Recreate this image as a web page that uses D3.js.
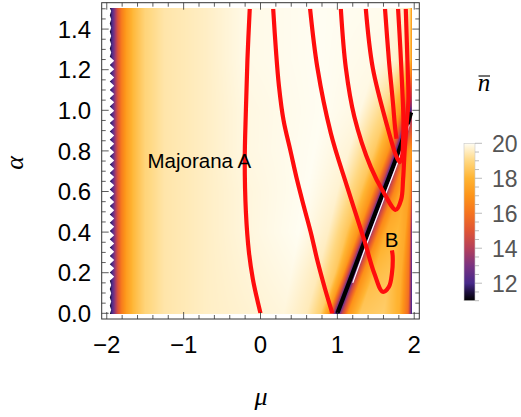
<!DOCTYPE html>
<html><head><meta charset="utf-8">
<script src="https://cdn.jsdelivr.net/npm/d3@7"></script>
<style>body{margin:0;background:#fff}svg{display:block}</style>
</head><body>
<svg id="chart" width="521" height="417"></svg>
<script>
// ---------- data ----------
const muTicks = [-2, -1, 0, 1, 2];
const muTickLabels = ["\u22122", "\u22121", "0", "1", "2"];
const alphaTicks = [0, 0.2, 0.4, 0.6, 0.8, 1.0, 1.2, 1.4];
const alphaTickLabels = ["0.0", "0.2", "0.4", "0.6", "0.8", "1.0", "1.2", "1.4"];
const cbTicks = [12, 14, 16, 18, 20];

// colour legend (value -> colour)
const cbVals   = [11, 11.5, 12, 13, 14, 15, 16, 17, 18, 19, 20];
const cbColors = ["#000000", "#1f1040", "#47298a", "#7a3381", "#b5405a", "#df5535", "#f5731f", "#fd9419", "#ffb432", "#ffd882", "#fffdf2"];

// density field: shared left profile (same for every alpha)
const leftMu = [-1.965, -1.93, -1.9, -1.86, -1.81, -1.75, -1.66, -1.5, -1.25, -0.7];
const leftN  = [11.1, 12.1, 13.2, 14.8, 16.2, 17.2, 18.1, 18.9, 19.35, 19.6];

// density field: right part per alpha row (mu positions / n values)
const rowAlpha = [0, 0.2, 0.4, 0.6, 0.8, 1.0, 1.25, 1.5];
const rowMu = [
  [-0.2, 0.3, 0.6, 0.78, 0.88, 0.94, 1.0, 1.06, 1.14, 1.3, 1.6, 1.8, 1.92, 1.967],
  [-0.2, 0.4, 0.75, 0.97, 1.08, 1.14, 1.2, 1.26, 1.34, 1.48, 1.68, 1.83, 1.93, 1.967],
  [-0.2, 0.5, 0.88, 1.12, 1.27, 1.34, 1.4, 1.46, 1.54, 1.64, 1.78, 1.88, 1.94, 1.967],
  [-0.2, 0.6, 1.0, 1.3, 1.46, 1.54, 1.6, 1.66, 1.74, 1.81, 1.88, 1.93, 1.955, 1.967],
  [-0.2, 0.7, 1.15, 1.48, 1.66, 1.735, 1.79, 1.845, 1.905, 1.935, 1.95, 1.958, 1.963, 1.967],
  [-0.2, 0.8, 1.3, 1.63, 1.82, 1.905, 1.962, 1.963, 1.964, 1.965, 1.9655, 1.966, 1.9665, 1.967],
  [-0.2, 0.8, 1.5, 1.75, 1.85, 1.9, 1.93, 1.945, 1.955, 1.96, 1.963, 1.965, 1.966, 1.967],
  [-0.2, 0.8, 1.6, 1.8, 1.88, 1.92, 1.94, 1.95, 1.957, 1.961, 1.963, 1.965, 1.966, 1.967]
];
const rowN = [
  [19.7, 19.8, 19.5, 18.8, 17.3, 14.5, 11.0, 14.2, 17.0, 18.5, 18.7, 17.9, 15.8, 12.0],
  [19.75, 19.9, 19.5, 18.6, 17.1, 14.5, 11.0, 14.2, 16.9, 18.2, 18.4, 17.8, 16.0, 12.3],
  [19.8, 20.0, 19.6, 18.5, 17.0, 14.5, 11.0, 14.2, 16.7, 17.8, 18.1, 17.6, 16.2, 12.8],
  [19.8, 20.0, 19.7, 18.5, 17.0, 14.5, 11.0, 14.2, 16.6, 17.4, 17.6, 17.3, 16.6, 15.0],
  [19.85, 20.0, 19.75, 18.6, 17.0, 14.5, 11.0, 14.2, 16.5, 17.0, 17.1, 17.1, 17.0, 16.8],
  [19.85, 20.0, 19.85, 18.9, 17.2, 14.6, 11.5, 12.0, 12.5, 13.0, 13.0, 13.0, 13.0, 13.0],
  [19.9, 20.0, 19.9, 19.7, 19.45, 19.2, 18.9, 18.5, 18.0, 17.7, 17.5, 17.3, 17.2, 17.1],
  [19.9, 20.0, 19.95, 19.8, 19.6, 19.35, 19.1, 18.7, 18.2, 17.8, 17.6, 17.4, 17.3, 17.2]
];

// red contour lines [mu, alpha]
const contourA = [[-0.14,1.5],[-0.17,1.25],[-0.19,1.0],[-0.205,0.75],[-0.19,0.5],[-0.15,0.3],[-0.1,0.17],[-0.05,0.08],[0,0]];
const contourB = [[0.165,1.5],[0.2,1.3],[0.24,1.12],[0.3,0.95],[0.39,0.8],[0.48,0.65],[0.565,0.525],[0.66,0.39],[0.74,0.26],[0.84,0.12],[0.935,0]];
const contourC = [[0.645,1.5],[0.74,1.21],[0.915,0.887],[1.13,0.62],[1.35,0.36],[1.48,0.197],[1.59,0.106],[1.67,0.13],[1.71,0.197],[1.72,0.28],[1.71,0.31]];
const contourD = [[1.045,1.5],[1.11,1.21],[1.22,0.97],[1.435,0.72],[1.61,0.59],[1.76,0.51],[1.83,0.56],[1.855,0.66],[1.875,0.8],[1.905,0.95],[1.925,1.05],[1.915,1.2],[1.89,1.5]];
const contourE = [[1.37,1.5],[1.46,1.21],[1.65,0.92],[1.76,0.78],[1.81,0.745],[1.84,0.77],[1.855,0.85],[1.86,0.95],[1.845,1.1],[1.82,1.3],[1.79,1.5]];
const contourF = [[1.62,1.5],[1.67,1.25],[1.72,1.05],[1.755,0.9],[1.77,0.86]];
const contours = [contourA, contourB, contourC, contourD, contourE, contourF];

// black and white lines along the valley
const blackLine = [[1.0,0],[1.2,0.2],[1.4,0.4],[1.6,0.6],[1.8,0.8],[1.96,0.99]];
const whiteLine = [[1.2,0.15],[1.4,0.36],[1.6,0.56],[1.8,0.76],[1.935,0.93]];

// labels
const labels = [{text:"Majorana A", mu:-1.47, a:0.715}, {text:"B", mu:1.615, a:0.325}];

// ---------- drawing ----------
const svg = d3.select("#chart");
const defs = svg.append("defs");
const x = d3.scaleLinear().domain([-2.066, 2.066]).range([101.7, 419.3]);
const y = d3.scaleLinear().domain([-0.028, 1.53]).range([319, 2.7]);
const color = d3.scaleLinear().domain(cbVals).range(cbColors).interpolate(d3.interpolateRgb).clamp(true);

const heatMuMin = leftMu[0], heatMuMax = 1.967;
const hx0 = Math.floor(x(heatMuMin)), hx1 = Math.ceil(x(heatMuMax));
const hy0 = Math.floor(y(1.5)), hy1 = Math.ceil(y(0));
const cw = hx1 - hx0, ch = hy1 - hy0;
const canvas = document.createElement("canvas");
canvas.width = cw; canvas.height = ch;
const ctx = canvas.getContext("2d");
const img = ctx.createImageData(cw, ch);
for (let py = 0; py < ch; py++) {
  let a = y.invert(hy0 + py + 0.5);
  a = Math.max(0, Math.min(1.5, a));
  let i = d3.bisectRight(rowAlpha, a) - 1;
  i = Math.max(0, Math.min(rowAlpha.length - 2, i));
  const t = (a - rowAlpha[i]) / (rowAlpha[i+1] - rowAlpha[i]);
  const ms = leftMu.concat(rowMu[i].map((m, k) => m + t * (rowMu[i+1][k] - m)));
  const ns = leftN.concat(rowN[i].map((n, k) => n + t * (rowN[i+1][k] - n)));
  const prof = d3.scaleLinear().domain(ms).range(ns).clamp(true);
  for (let px = 0; px < cw; px++) {
    const m = x.invert(hx0 + px + 0.5);
    const o = (py * cw + px) * 4;
    if (m < heatMuMin || m > heatMuMax) { img.data[o+3] = 0; continue; }
    const c = d3.rgb(color(prof(m)));
    img.data[o] = c.r; img.data[o+1] = c.g; img.data[o+2] = c.b; img.data[o+3] = 255;
  }
}
ctx.putImageData(img, 0, 0);

// ragged left boundary of the sampled region (as in the picture)
const edgePts = [[hx1 + 1, hy0], [hx1 + 1, hy1]];
let k = 0;
for (let yy = hy1; yy >= hy0; yy -= 4.15, k++) {
  const mid = yy > 58 && yy < 280;
  edgePts.push([mid ? (k % 2 ? 114.2 : 109.8) : (k % 2 ? 111.2 : 109.8), yy]);
}
edgePts.push([109.8, hy0]);
defs.append("clipPath").attr("id", "hclip").append("polygon")
  .attr("points", edgePts.map(p => p.join(",")).join(" "));
svg.append("image").attr("x", hx0).attr("y", hy0).attr("width", cw).attr("height", ch)
  .attr("clip-path", "url(#hclip)").attr("href", canvas.toDataURL());

// clip for lines
defs.append("clipPath").attr("id", "pclip").append("rect")
  .attr("x", x(-2)).attr("y", y(1.5)).attr("width", x(heatMuMax) - x(-2) + 2).attr("height", y(0) - y(1.5));

const line = d3.line().x(d => x(d[0])).y(d => y(d[1])).curve(d3.curveCatmullRom.alpha(0.5));
const gl = svg.append("g").attr("clip-path", "url(#pclip)");
gl.append("path").datum(blackLine).attr("d", line).attr("fill", "none").attr("stroke", "#000").attr("stroke-width", 4.2);
gl.append("path").datum(whiteLine).attr("d", line).attr("fill", "none").attr("stroke", "#fff").attr("stroke-width", 1.2);
gl.selectAll("path.ct").data(contours).enter().append("path").attr("class", "ct")
  .attr("d", line).attr("fill", "none").attr("stroke", "#ff0d0d").attr("stroke-width", 4.2).attr("stroke-linejoin", "round");

// labels in plot
svg.selectAll("text.lab").data(labels).enter().append("text").attr("class", "lab")
  .attr("x", d => x(d.mu)).attr("y", d => y(d.a))
  .attr("font-family", "Liberation Sans, Arial, sans-serif").attr("font-size", 20.5).attr("fill", "#000")
  .text(d => d.text);

// frame
const fx0 = 101.7, fx1 = 419.3, fy0 = 2.7, fy1 = 319;
svg.append("rect").attr("x", fx0).attr("y", fy0).attr("width", fx1 - fx0).attr("height", fy1 - fy0)
  .attr("fill", "none").attr("stroke", "#333").attr("stroke-width", 1);

const tickCol = "#333";
const muMinor = d3.range(-2, 2.001, 0.2).filter(v => Math.abs(v - Math.round(v)) > 1e-6);
const aMinor = d3.range(0, 1.501, 0.05).filter(v => Math.abs(v*5 - Math.round(v*5)) > 1e-6);
const tg = svg.append("g").attr("stroke", tickCol).attr("stroke-width", 0.8);
function vt(v, len) {
  tg.append("line").attr("x1", x(v)).attr("x2", x(v)).attr("y1", fy1).attr("y2", fy1 - len);
  tg.append("line").attr("x1", x(v)).attr("x2", x(v)).attr("y1", fy0).attr("y2", fy0 + len);
}
function ht(v, len) {
  tg.append("line").attr("y1", y(v)).attr("y2", y(v)).attr("x1", fx0).attr("x2", fx0 + len);
  tg.append("line").attr("y1", y(v)).attr("y2", y(v)).attr("x1", fx1).attr("x2", fx1 - len);
}
muTicks.forEach(v => vt(v, 7)); muMinor.forEach(v => vt(v, 4));
alphaTicks.forEach(v => ht(v, 7)); aMinor.forEach(v => ht(v, 4));

const font = "Liberation Sans, Arial, sans-serif";
svg.selectAll("text.xt").data(muTicks).enter().append("text").attr("class", "xt")
  .attr("x", d => x(d)).attr("y", 353).attr("text-anchor", "middle")
  .attr("font-family", font).attr("font-size", 24).text((d, i) => muTickLabels[i]);
svg.selectAll("text.yt").data(alphaTicks).enter().append("text").attr("class", "yt")
  .attr("x", 91).attr("y", d => y(d) + 8.6).attr("text-anchor", "end")
  .attr("font-family", font).attr("font-size", 24).text((d, i) => alphaTickLabels[i]);

// axis titles
svg.append("text").attr("x", 261).attr("y", 405).attr("text-anchor", "middle")
  .attr("font-family", "Liberation Serif, Times New Roman, serif").attr("font-style", "italic").attr("font-size", 26).text("\u03bc");
svg.append("text").attr("transform", "translate(23,163) rotate(-90)").attr("text-anchor", "middle")
  .attr("font-family", "Liberation Serif, Times New Roman, serif").attr("font-style", "italic").attr("font-size", 26).text("\u03b1");

// colour bar
const cbY = d3.scaleLinear().domain([11, 20]).range([300.7, 143.3]);
const grad = defs.append("linearGradient").attr("id", "cbg")
  .attr("x1", 0).attr("y1", 1).attr("x2", 0).attr("y2", 0);
cbVals.forEach((v, i) => grad.append("stop").attr("offset", (v - 11) / 9).attr("stop-color", cbColors[i]));
svg.append("rect").attr("x", 464).attr("y", cbY(20)).attr("width", 11).attr("height", cbY(11) - cbY(20))
  .attr("fill", "url(#cbg)").attr("stroke", "#c8c8c8").attr("stroke-width", 0.6);
const cbMinor = d3.range(11, 20.01, 0.5).filter(v => cbTicks.indexOf(v) < 0);
const cg = svg.append("g").attr("stroke", "#aaa").attr("stroke-width", 0.8);
cbTicks.forEach(v => cg.append("line").attr("x1", 475).attr("x2", 482).attr("y1", cbY(v)).attr("y2", cbY(v)));
cbMinor.forEach(v => cg.append("line").attr("x1", 475).attr("x2", 479).attr("y1", cbY(v)).attr("y2", cbY(v)));
svg.selectAll("text.ct").data(cbTicks).enter().append("text").attr("class", "ct")
  .attr("x", 492).attr("y", d => cbY(d) + 8.3)
  .attr("font-family", font).attr("font-size", 23).attr("fill", "#555").text(d => d);

// n-bar title
svg.append("text").attr("x", 484).attr("y", 91).attr("text-anchor", "middle")
  .attr("font-family", "Liberation Serif, Times New Roman, serif").attr("font-style", "italic").attr("font-size", 25).text("n");
svg.append("line").attr("x1", 478.5).attr("x2", 490).attr("y1", 76).attr("y2", 76).attr("stroke", "#000").attr("stroke-width", 1.1);
</script>
</body></html>
